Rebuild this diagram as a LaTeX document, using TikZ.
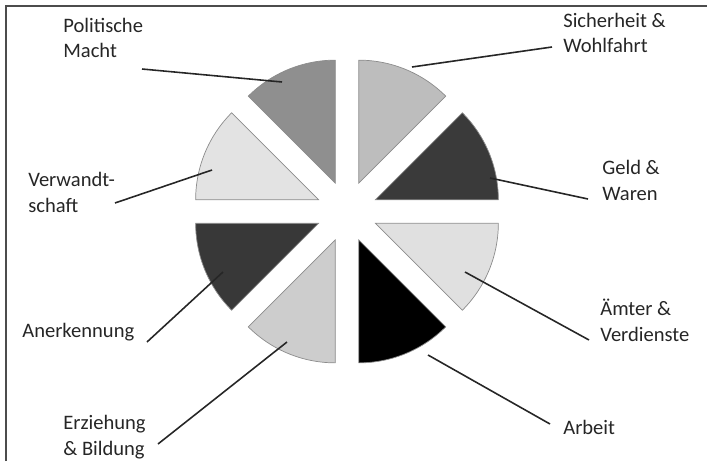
\documentclass[tikz,border=0pt]{standalone}
\usepackage{fontspec}
\setmainfont{Carlito}
\usetikzlibrary{calc}
\usepackage{xcolor}

\definecolor{macht}{HTML}{8F8F8F}
\definecolor{sicherheit}{HTML}{BDBDBD}
\definecolor{geld}{HTML}{3A3A3A}
\definecolor{aemter}{HTML}{E0E0E0}
\definecolor{arbeit}{HTML}{000000}
\definecolor{erziehung}{HTML}{CDCDCD}
\definecolor{anerkennung}{HTML}{383838}
\definecolor{verwandt}{HTML}{E3E3E3}

\begin{document}
\begin{tikzpicture}[x=0.02cm, y=0.02cm,
    slice/.style={draw=black!45, line width=0.4pt},
    leader/.style={draw=black!85, line width=0.9pt},
    lbl/.style={anchor=west, align=left, inner sep=0pt, text=black!85,
        font=\fontsize{11.7}{14.7}\selectfont}]
    \useasboundingbox (0,0) rectangle (707,461);

    % ---- Frame ----
    \draw[line width=1.1pt, black!70] (5.7,0) -- (5.7,455.3) -- (707,455.3);

    % ---- Exploded pie ----
    \coordinate (M) at (347,249.5);
    \foreach \a/\col in {0/geld, 45/sicherheit, 90/macht, 135/verwandt,
                         180/anerkennung, 225/erziehung, 270/arbeit, 315/aemter} {
        \coordinate (apex\a) at ($(M)+(\a+22.5:30.7)$);
        \filldraw[slice, fill=\col] (apex\a) -- ++(\a:123)
            arc[start angle=\a, end angle=\a+45, radius=123] -- cycle;
    }

    % ---- Labels ----
    \node[lbl] (macht) at (63,423) {Politische\\Macht};
    \node[lbl] (sicherheit) at (563,428) {Sicherheit \&\\Wohlfahrt};
    \node[lbl] (geld) at (602,280.5) {Geld \&\\Waren};
    \node[lbl] (verwandt) at (28,268.5) {Verwandt-\\schaft};
    \node[lbl] (anerkennung) at (22,129) {Anerkennung};
    \node[lbl] (erziehung) at (63,23.5) {Erziehung\\\& Bildung};
    \node[lbl] (aemter) at (600,141) {Ämter \&\\Verdienste};
    \node[lbl] (arbeit) at (563,34) {Arbeit};

    % ---- Leader lines ----
    \coordinate (macht-in) at (282,379);
    \coordinate (macht-out) at (142,392);
    \coordinate (sicherheit-in) at (412,394);
    \coordinate (sicherheit-out) at (552,414);
    \coordinate (geld-in) at (490,283);
    \coordinate (geld-out) at (588,262);
    \coordinate (verwandt-in) at (212,291);
    \coordinate (verwandt-out) at (115,258);
    \coordinate (anerkennung-in) at (223,189);
    \coordinate (anerkennung-out) at (147,119);
    \coordinate (erziehung-in) at (287,119);
    \coordinate (erziehung-out) at (158,17);
    \coordinate (aemter-in) at (465,189);
    \coordinate (aemter-out) at (589,121);
    \coordinate (arbeit-in) at (428,106);
    \coordinate (arbeit-out) at (550,37);

    \foreach \n in {macht, sicherheit, geld, verwandt, anerkennung, erziehung, aemter, arbeit}
        \draw[leader] (\n-out) -- (\n-in);
\end{tikzpicture}
\end{document}
